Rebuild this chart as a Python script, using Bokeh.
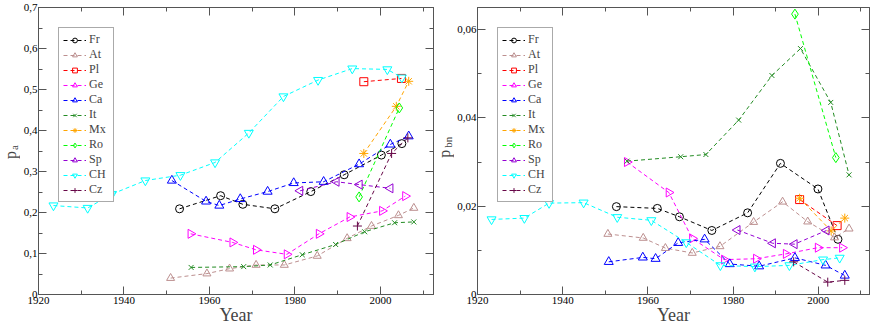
from math import pi
from bokeh.plotting import figure
from bokeh.models import FixedTicker, Legend, LegendItem, Label, LinearAxis, Range1d
from bokeh.layouts import row
from bokeh.embed import file_html
from bokeh.resources import INLINE

series = ["Fr", "At", "Pl", "Ge", "Ca", "It", "Mx", "Ro", "Sp", "CH", "Cz"]

# ---- left panel: p_a ----
a_fr_x = [1953.0, 1962.6, 1967.8, 1975.3, 1983.7, 1991.5, 2000.2, 2005.0]
a_fr_y = [0.209, 0.241, 0.220, 0.209, 0.251, 0.292, 0.340, 0.368]
a_at_x = [1950.9, 1959.4, 1964.7, 1970.9, 1977.5, 1985.2, 1992.2, 1997.9, 2004.2, 2007.8]
a_at_y = [0.040, 0.051, 0.063, 0.072, 0.072, 0.094, 0.137, 0.167, 0.193, 0.211]
a_pl_x = [1996.1, 2004.9]
a_pl_y = [0.519, 0.527]
a_ge_x = [1955.6, 1965.4, 1970.9, 1978.1, 1985.6, 1992.8, 2000.4, 2005.8]
a_ge_y = [0.148, 0.127, 0.109, 0.098, 0.148, 0.189, 0.204, 0.240]
a_ca_x = [1951.2, 1959.2, 1962.3, 1967.2, 1973.6, 1979.7, 1986.7, 1995.0, 2002.3, 2006.6]
a_ca_y = [0.278, 0.227, 0.217, 0.233, 0.251, 0.272, 0.275, 0.318, 0.366, 0.386]
a_it_x = [1955.7, 1968.0, 1974.2, 1981.7, 1989.5, 1996.3, 2003.3, 2007.8]
a_it_y = [0.066, 0.068, 0.072, 0.097, 0.122, 0.153, 0.175, 0.177]
a_mx_x = [1996.1, 2003.7, 2006.6]
a_mx_y = [0.344, 0.459, 0.520]
a_ro_x = [1995.0, 2004.4]
a_ro_y = [0.238, 0.455]
a_sp_x = [1981.2, 1989.7, 1995.1, 2002.3]
a_sp_y = [0.253, 0.275, 0.268, 0.259]
a_ch_x = [1923.5, 1931.5, 1937.2, 1945.0, 1953.2, 1961.3, 1969.2, 1977.3, 1985.4, 1993.4, 2001.6, 2005.0]
a_ch_y = [0.217, 0.211, 0.245, 0.278, 0.291, 0.322, 0.394, 0.483, 0.523, 0.551, 0.549, 0.529]
a_cz_x = [1994.6, 2002.6, 2006.4]
a_cz_y = [0.167, 0.344, 0.382]

# ---- right panel: p_bn ----
b_fr_x = [1952.6, 1962.2, 1967.4, 1975.0, 1983.4, 1991.1, 1999.9, 2004.6]
b_fr_y = [0.0199, 0.0195, 0.0176, 0.0145, 0.0185, 0.0297, 0.0239, 0.0125]
b_at_x = [1950.6, 1958.9, 1964.1, 1970.4, 1976.9, 1984.8, 1991.6, 1997.5, 2003.8, 2007.2]
b_at_y = [0.0137, 0.0128, 0.0105, 0.0094, 0.0109, 0.0164, 0.0210, 0.0165, 0.0129, 0.0149]
b_pl_x = [1995.6, 2004.4]
b_pl_y = [0.0215, 0.0156]
b_ge_x = [1955.1, 1964.9, 1970.4, 1977.9, 1985.4, 1992.4, 1999.9, 2005.6]
b_ge_y = [0.0300, 0.0231, 0.0127, 0.0079, 0.0081, 0.0092, 0.0106, 0.0106]
b_ca_x = [1950.8, 1958.8, 1961.8, 1967.1, 1973.3, 1979.2, 1986.1, 1994.5, 2001.7, 2006.2]
b_ca_y = [0.0074, 0.0084, 0.0081, 0.0117, 0.0125, 0.0069, 0.0064, 0.0083, 0.0066, 0.0043]
b_it_x = [1955.1, 1967.7, 1973.6, 1981.3, 1989.1, 1995.8, 2002.9, 2007.2]
b_it_y = [0.0302, 0.0312, 0.0317, 0.0395, 0.0496, 0.0557, 0.0435, 0.0271]
b_mx_x = [1995.6, 2003.0, 2006.2]
b_mx_y = [0.0218, 0.0144, 0.0173]
b_ro_x = [1994.5, 2004.1]
b_ro_y = [0.0635, 0.0310]
b_sp_x = [1981.0, 1989.3, 1994.4, 2001.9]
b_sp_y = [0.0146, 0.0116, 0.0114, 0.0145]
b_ch_x = [1923.3, 1931.0, 1936.8, 1944.9, 1952.8, 1960.8, 1969.0, 1977.0, 1985.1, 1993.2, 2001.1, 2005.0]
b_ch_y = [0.0170, 0.0173, 0.0207, 0.0208, 0.0175, 0.0168, 0.0118, 0.0066, 0.0063, 0.0066, 0.0079, 0.0083]
b_cz_x = [1994.2, 2002.2, 2006.2]
b_cz_y = [0.0074, 0.0028, 0.0032]

x_ticks = [1920, 1940, 1960, 1980, 2000]
x_minor = [1930, 1950, 1970, 1990, 2010]
a_ticks = [0, 0.1, 0.2, 0.3, 0.4, 0.5, 0.6, 0.7]
a_tick_labels = ["0", "0,1", "0,2", "0,3", "0,4", "0,5", "0,6", "0,7"]
a_minor = [0.05, 0.15, 0.25, 0.35, 0.45, 0.55, 0.65]
b_ticks = [0, 0.02, 0.04, 0.06]
b_tick_labels = ["0", "0,02", "0,04", "0,06"]
b_minor = [0.01, 0.03, 0.05]

colors = ["#000000", "#bc8f8f", "#ff0000", "#ff00ff", "#0000ff", "#228b22",
          "#ffa500", "#00ff00", "#9400d3", "#00ffff", "#670748"]
markers = ["circle", "triangle", "square", "triangle", "triangle", "x",
           "asterisk", "diamond", "triangle", "inverted_triangle", "cross"]
angles = [0, 0, 0, -pi / 2, 0, 0, 0, 0, pi / 2, 0, 0]
sizes = [8, 8, 8, 9, 9, 7, 9, 10, 9, 9, 9]

FONT = "Liberation Serif"
H = 327
AX = "#555555"
SHIFT = 12  # correction for rotated label anchoring


def label_strip(width, main, sub, main_pos, sub_pos):
    f = figure(width=width, height=H, x_range=Range1d(0, width), y_range=Range1d(0, H),
               output_backend="svg", toolbar_location=None, x_axis_type=None, y_axis_type=None,
               min_border=0)
    f.outline_line_color = None
    f.xgrid.visible = False
    f.ygrid.visible = False
    f.add_layout(Label(x=main_pos[0], y=H - main_pos[1] - SHIFT, text=main, angle=pi / 2,
                       text_align="center", text_baseline="middle",
                       text_font=FONT, text_font_size="16px"))
    f.add_layout(Label(x=sub_pos[0], y=H - sub_pos[1] - SHIFT, text=sub, angle=pi / 2,
                       text_align="center", text_baseline="middle",
                       text_font=FONT, text_font_size="11px"))
    return f


def make_panel(data, xr, yr, yticks, ylabels, minor_y, width, border_left, border_right,
               border_top):
    p = figure(width=width, height=H, x_range=Range1d(*xr), y_range=Range1d(*yr),
               output_backend="svg", toolbar_location=None,
               min_border_left=border_left, min_border_right=border_right,
               min_border_top=border_top, min_border_bottom=0)
    p.xgrid.visible = False
    p.ygrid.visible = False
    p.outline_line_color = AX

    xt = FixedTicker(ticks=x_ticks, minor_ticks=x_minor)
    yt = FixedTicker(ticks=yticks, minor_ticks=minor_y)
    p.xaxis.ticker = xt
    p.yaxis.ticker = yt
    p.yaxis.major_label_overrides = {t: l for t, l in zip(yticks, ylabels)}
    p.xaxis.axis_label = "Year"
    p.xaxis.axis_label_text_font = FONT
    p.xaxis.axis_label_text_font_style = "normal"
    p.xaxis.axis_label_text_font_size = "18px"
    p.xaxis.axis_label_standoff = -2
    for ax in (p.xaxis[0], p.yaxis[0]):
        ax.major_label_text_font = FONT
        ax.major_label_text_font_size = "11px"
        ax.major_tick_in = 8
        ax.major_tick_out = 0
        ax.minor_tick_in = 4
        ax.minor_tick_out = 0
        ax.axis_line_color = AX
        ax.major_tick_line_color = AX
        ax.minor_tick_line_color = AX
        ax.major_label_text_color = "black"
    p.xaxis.major_label_standoff = 2
    p.yaxis.major_label_standoff = 1

    for loc, tk in (("above", xt), ("right", yt)):
        ax = LinearAxis(ticker=tk, major_label_text_font_size="0px", major_label_standoff=0,
                        major_tick_in=8, major_tick_out=0, minor_tick_in=4, minor_tick_out=0,
                        axis_line_color=AX, major_tick_line_color=AX,
                        minor_tick_line_color=AX)
        ax.major_label_overrides = {t: "" for t in tk.ticks}
        p.add_layout(ax, loc)

    items = []
    for i, name in enumerate(series):
        xs, ys = data[i]
        c = colors[i]
        ln = p.line(xs, ys, line_color=c, line_width=1, line_dash="4 3")
        sc = p.scatter(xs, ys, marker=markers[i], size=sizes[i], angle=angles[i],
                       line_color=c, fill_color=None, line_width=1)
        items.append(LegendItem(label=name, renderers=[ln, sc]))

    leg = Legend(items=items, location="top_left", margin=20, padding=4, spacing=0,
                 label_height=12, glyph_height=12, glyph_width=23, label_standoff=3,
                 label_text_font=FONT, label_text_font_size="12px",
                 label_text_line_height=1.0,
                 border_line_color=AX, border_line_width=1,
                 background_fill_alpha=1.0)
    p.add_layout(leg)
    return p


a_data = [(a_fr_x, a_fr_y), (a_at_x, a_at_y), (a_pl_x, a_pl_y), (a_ge_x, a_ge_y),
          (a_ca_x, a_ca_y), (a_it_x, a_it_y), (a_mx_x, a_mx_y), (a_ro_x, a_ro_y),
          (a_sp_x, a_sp_y), (a_ch_x, a_ch_y), (a_cz_x, a_cz_y)]
b_data = [(b_fr_x, b_fr_y), (b_at_x, b_at_y), (b_pl_x, b_pl_y), (b_ge_x, b_ge_y),
          (b_ca_x, b_ca_y), (b_it_x, b_it_y), (b_mx_x, b_mx_y), (b_ro_x, b_ro_y),
          (b_sp_x, b_sp_y), (b_ch_x, b_ch_y), (b_cz_x, b_cz_y)]

lab1 = label_strip(20, "p", "a", (9.5, 156), (13.6, 147.5))
p1 = make_panel(a_data, (1920, 2012.4), (0, 0.7), a_ticks, a_tick_labels, a_minor,
                414, 15, 1, 7)
lab2 = label_strip(20, "p", "bn", (9.5, 154.5), (13.6, 141.5))
p2 = make_panel(b_data, (1920, 2012), (0, 0.065), b_ticks, b_tick_labels, b_minor,
                418, 22, 3, 3)

layout = row(lab1, p1, lab2, p2, spacing=0)
open("out.html", "w").write(file_html(layout, INLINE))
